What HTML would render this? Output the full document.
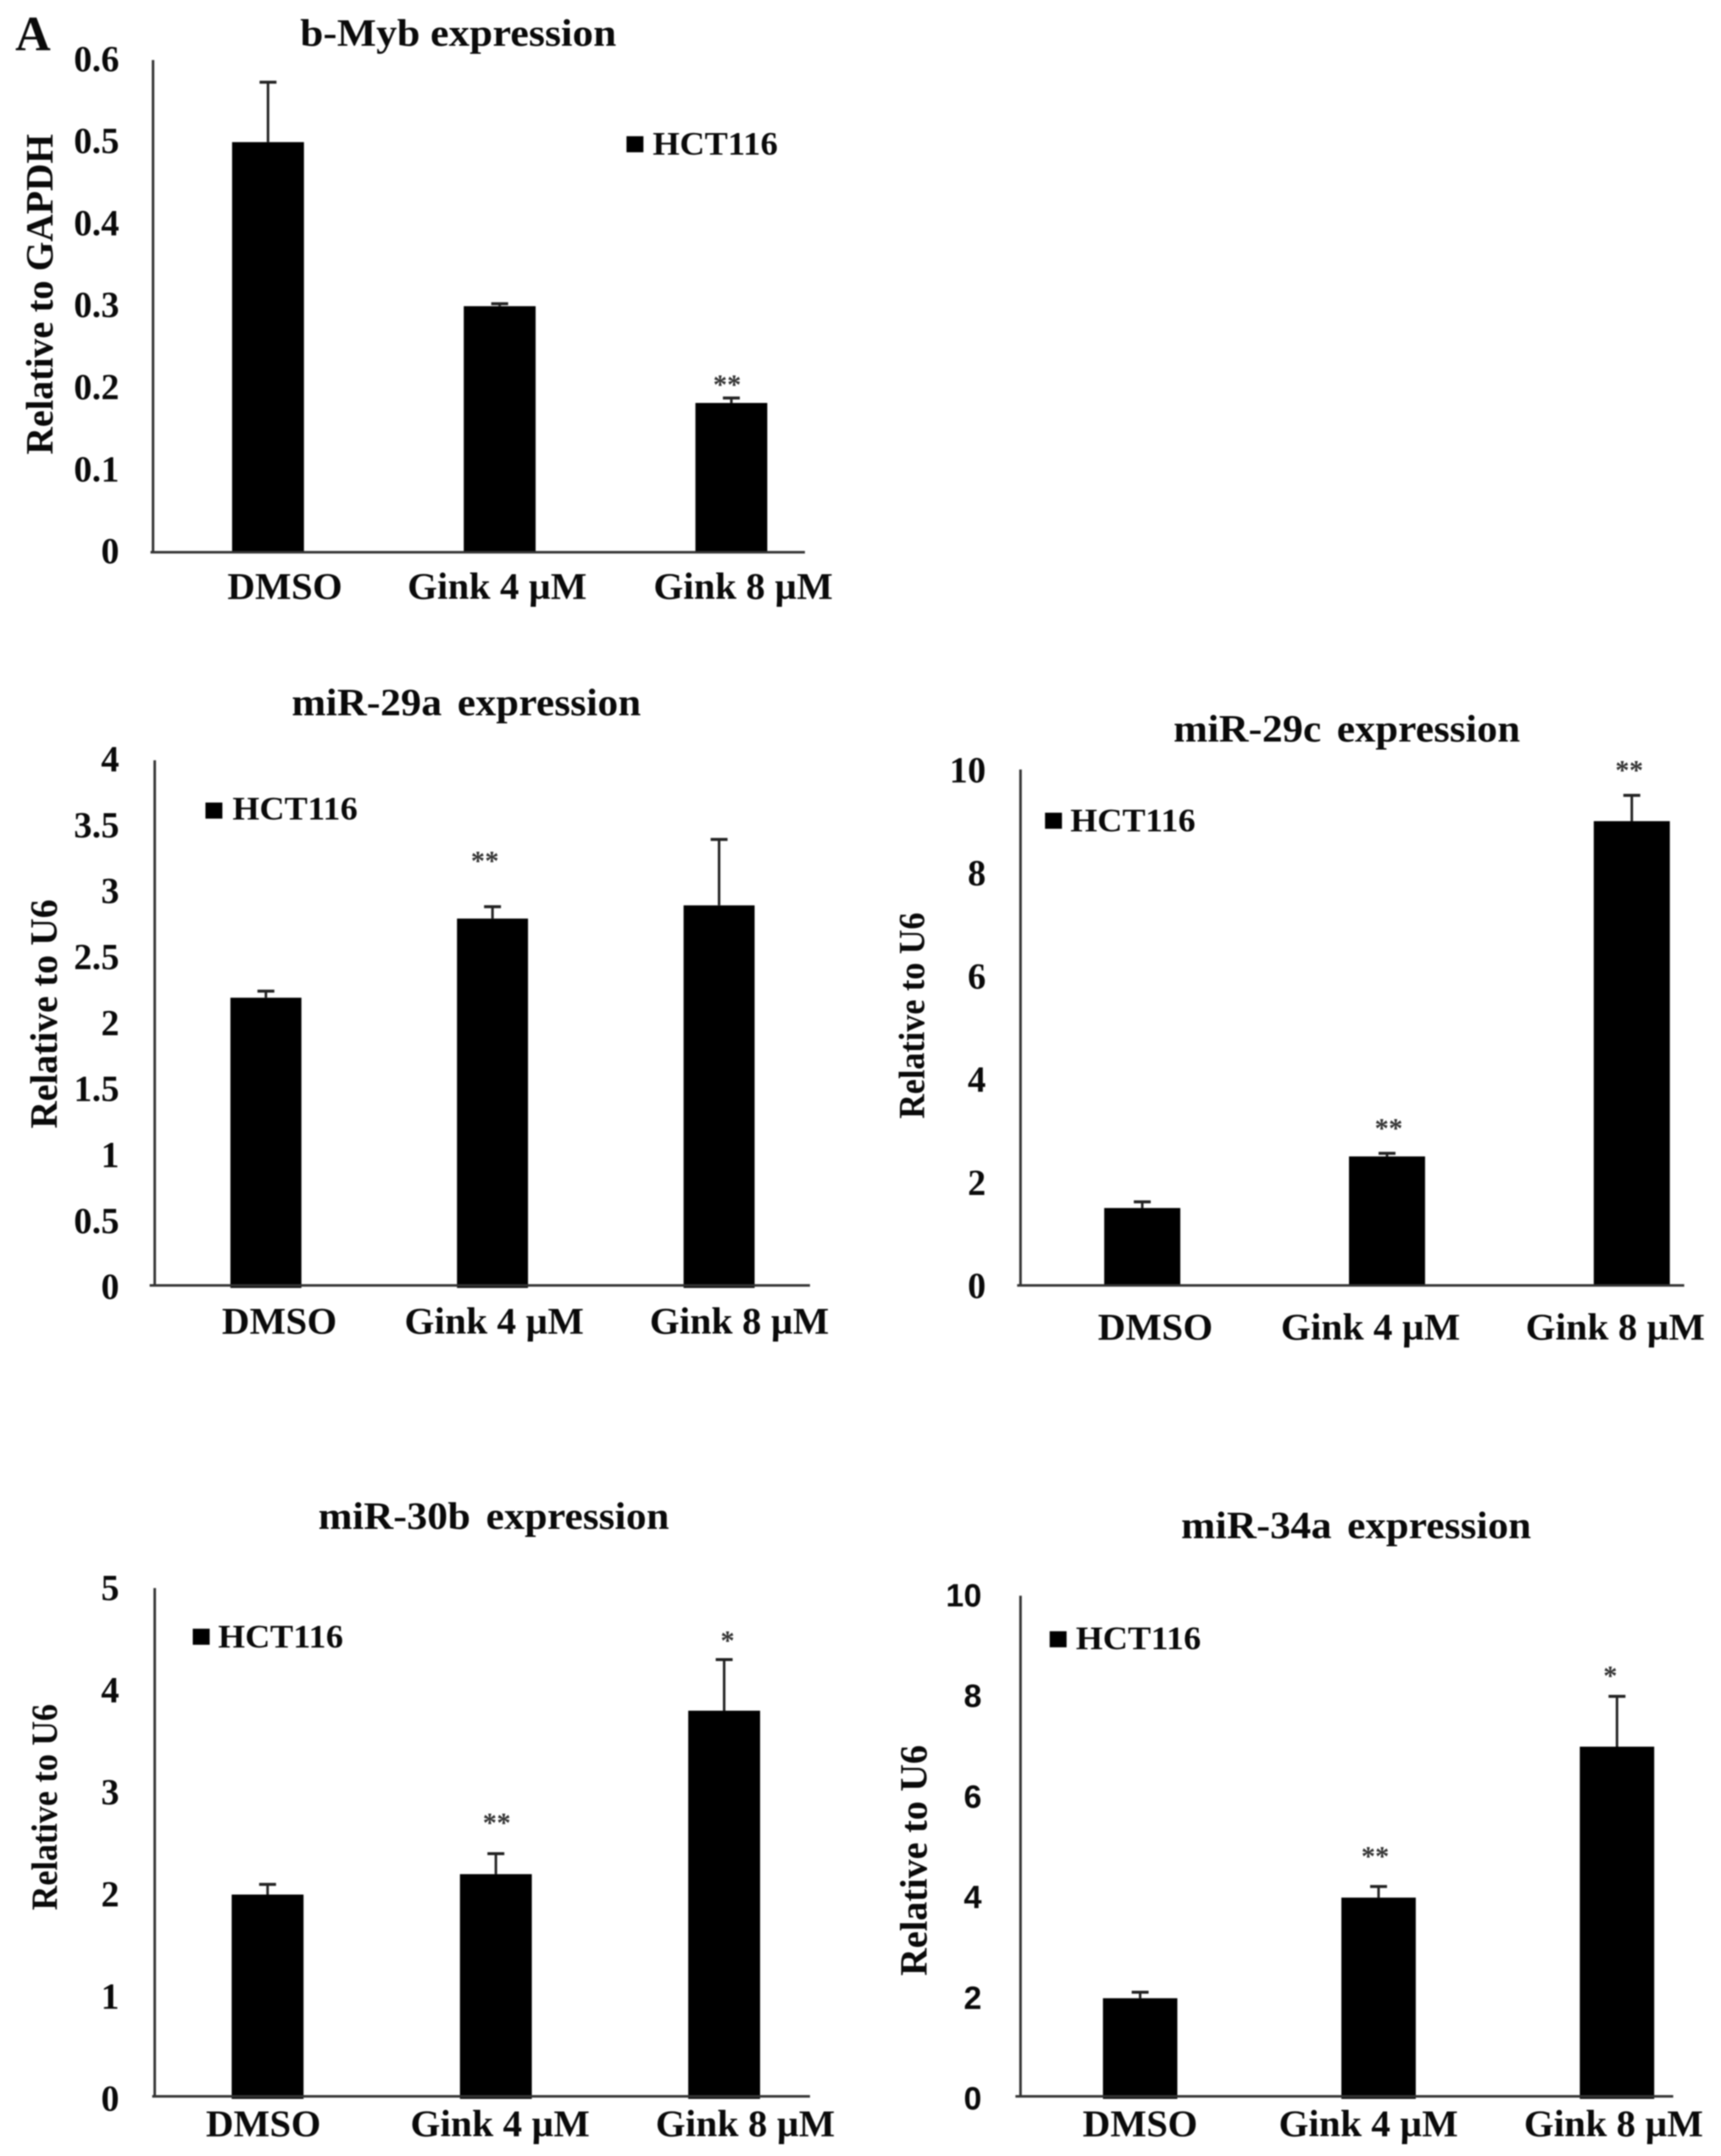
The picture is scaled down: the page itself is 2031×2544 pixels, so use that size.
<!DOCTYPE html>
<html lang="en">
<head>
<meta charset="utf-8">
<title>Gink expression bar charts</title>
<style>
html,body{margin:0;padding:0;background:#fff;}
#figure{display:block;width:2031px;height:2544px;filter:blur(0.9px);}
text{font-family:"Liberation Serif",serif;font-weight:bold;fill:#0a0a0a;}
</style>
</head>
<body>
<svg id="figure" xmlns="http://www.w3.org/2000/svg" width="2031" height="2544" viewBox="0 0 2035.5 2549.5">
<rect x="0" y="0" width="2036" height="2550" fill="#fff"></rect>
<text x="18" y="59" font-size="58">A</text>
</svg>
<script>
const categories = ['DMSO', 'Gink 4 µM', 'Gink 8 µM'];
const seriesName = 'HCT116';

const bMybValues = [0.5, 0.3, 0.182];
const bMybErrors = [0.073, 0.003, 0.006];
const bMybStars = ['', '', '**'];
const bMybTicks = [0, 0.1, 0.2, 0.3, 0.4, 0.5, 0.6];

const mir29aValues = [2.2, 2.8, 2.9];
const mir29aErrors = [0.05, 0.09, 0.5];
const mir29aStars = ['', '**', ''];
const mir29aTicks = [0, 0.5, 1, 1.5, 2, 2.5, 3, 3.5, 4];

const mir29cValues = [1.5, 2.5, 9];
const mir29cErrors = [0.12, 0.06, 0.5];
const mir29cStars = ['', '**', '**'];
const mir29cTicks = [0, 2, 4, 6, 8, 10];

const mir30bValues = [2, 2.2, 3.8];
const mir30bErrors = [0.1, 0.2, 0.5];
const mir30bStars = ['', '**', '*'];
const mir30bTicks = [0, 1, 2, 3, 4, 5];

const mir34aValues = [2, 4, 7];
const mir34aErrors = [0.12, 0.22, 1];
const mir34aStars = ['', '**', '*'];
const mir34aTicks = [0, 2, 4, 6, 8, 10];

const panels = [
  {id:'b-myb', title:'b-Myb expression', yTitle:'Relative to GAPDH', values:bMybValues, errors:bMybErrors, stars:bMybStars, ticks:bMybTicks,
   layout:{axisX:181, axisLeft:178, axisRight:952, bottom:653, xAxisY:653, top:71, yMax:0.6, barStart:317, barStep:274, barW:85,
    titleX:542, titleY:54, titleW:374, titleGap:0, yTitleX:62, yTitleY:348, yTitleW:379, yTitleFont:46,
    tickRight:141, tickDy:13, labelY:708, labelShift:[20,-3,14], legendX:741, legendY:161, legendTextX:772, legendBase:183,
    starShift:[0,0,-5], starGap:[0,0,20]}},
  {id:'mir-29a', title:'miR-29a expression', yTitle:'Relative to U6', values:mir29aValues, errors:mir29aErrors, stars:mir29aStars, ticks:mir29aTicks,
   layout:{axisX:183, axisLeft:177, axisRight:958, bottom:1523, xAxisY:1520, top:899, yMax:4, barStart:314.5, barStep:268, barW:84,
    titleX:551.5, titleY:846, titleW:413, titleGap:6, yTitleX:67, yTitleY:1199, yTitleW:271, yTitleFont:46,
    tickRight:141, tickDy:13, labelY:1577, labelShift:[16,2,24], legendX:243, legendY:949, legendTextX:275, legendBase:969,
    starShift:[0,-9,0], starGap:[0,58.5,0]}},
  {id:'mir-29c', title:'miR-29c expression', yTitle:'Relative to U6', values:mir29cValues, errors:mir29cErrors, stars:mir29cStars, ticks:mir29cTicks,
   layout:{axisX:1207, axisLeft:1203, axisRight:1992, bottom:1520, xAxisY:1520, top:910, yMax:10, barStart:1351, barStep:289.5, barW:90,
    titleX:1593, titleY:877, titleW:410, titleGap:6, yTitleX:1093, yTitleY:1201, yTitleW:244, yTitleFont:43,
    tickRight:1166, tickDy:15, labelY:1584, labelShift:[15.5,-19.5,-19.5], legendX:1236, legendY:961, legendTextX:1266, legendBase:983,
    starShift:[0,2,-3], starGap:[0,34,34]}},
  {id:'mir-30b', title:'miR-30b expression', yTitle:'Relative to U6', values:mir30bValues, errors:mir30bErrors, stars:mir30bStars, ticks:mir30bTicks,
   layout:{axisX:183, axisLeft:180, axisRight:958, bottom:2482, xAxisY:2479, top:1878, yMax:5, barStart:316.5, barStep:270, barW:85,
    titleX:584, titleY:1808, titleW:415, titleGap:6, yTitleX:67, yTitleY:2137, yTitleW:244, yTitleFont:43,
    tickRight:141, tickDy:14, labelY:2526, labelShift:[-5,5,25], legendX:228, legendY:1926, legendTextX:258, legendBase:1948,
    starShift:[0,1,4], starGap:[0,41,27]}},
  {id:'mir-34a', title:'miR-34a expression', yTitle:'Relative to U6', values:mir34aValues, errors:mir34aErrors, stars:mir34aStars, ticks:mir34aTicks,
   layout:{axisX:1207, axisLeft:1201, axisRight:1979, bottom:2482, xAxisY:2479, top:1887, yMax:10, barStart:1348.5, barStep:282, barW:88,
    titleX:1604, titleY:1819, titleW:414, titleGap:6, yTitleX:1096, yTitleY:2200, yTitleW:273, yTitleFont:46,
    tickRight:1161, tickDy:12.5, tickSans:true, labelY:2526, labelShift:[0,-12,-4], legendX:1241.5, legendY:1929, legendTextX:1272.5, legendBase:1950,
    starShift:[0,-4,-8], starGap:[0,40,28.5]}}
];

const NS = 'http://www.w3.org/2000/svg';
const svg = document.getElementById('figure');

function mk(parent, tag, attrs, content) {
  const el = document.createElementNS(NS, tag);
  for (const k in attrs) el.setAttribute(k, attrs[k]);
  if (content !== undefined) el.textContent = content;
  parent.appendChild(el);
  return el;
}

panels.forEach(function (p) {
  const L = p.layout;
  const yScale = function (v) { return L.bottom - (v / L.yMax) * (L.bottom - L.top); };
  const xScale = function (i) { return L.barStart + i * L.barStep; };

  const g = mk(svg, 'g', {});
  
  

  const title = mk(g, 'text', {x:L.titleX, y:L.titleY, 'font-size':46, 'text-anchor':'middle', 'word-spacing':L.titleGap, textLength:L.titleW, lengthAdjust:'spacingAndGlyphs'}, p.title);
  
  

  const yTitle = mk(g, 'text', {transform:'translate(' + L.yTitleX + ',' + L.yTitleY + ') rotate(-90)', 'font-size':L.yTitleFont, 'text-anchor':'middle', textLength:L.yTitleW, lengthAdjust:'spacingAndGlyphs'}, p.yTitle);
  
  

  p.ticks.forEach(function (t) {
    const tick = mk(g, 'text', {x:L.tickRight, y:yScale(t) + L.tickDy, 'font-size':L.tickSans ? 38 : 43, 'text-anchor':'end'}, String(t));
    if (L.tickSans) tick.style.fontFamily = '"Liberation Sans", sans-serif';
    
    
  });

  p.values.forEach(function (v, i) {
    const cx = xScale(i);
    const errTop = yScale(v + p.errors[i]);

    const stem = mk(g, 'line', {x1:cx, x2:cx, y1:yScale(v), y2:errTop, stroke:'#222', 'stroke-width':3});
    
    

    const cap = mk(g, 'line', {x1:cx - 10, x2:cx + 10, y1:errTop, y2:errTop, stroke:'#222', 'stroke-width':3.5});
    
    

    const bar = mk(g, 'rect', {x:cx - L.barW / 2, y:yScale(v), width:L.barW, height:L.bottom - yScale(v), fill:'#000'});
    
    

    const label = mk(g, 'text', {x:cx + L.labelShift[i], y:L.labelY, 'font-size':44, 'text-anchor':'middle', textLength:i === 0 ? 136 : 212, lengthAdjust:'spacingAndGlyphs'}, categories[i]);
    
    

    if (p.stars[i]) {
      const star = mk(g, 'text', {x:cx + L.starShift[i], y:errTop - L.starGap[i] + 15, 'font-size':33, 'text-anchor':'middle'}, p.stars[i]);
      star.style.fill = '#333';
      
      
    }
  });

  const yAxis = mk(g, 'line', {x1:L.axisX, x2:L.axisX, y1:L.top, y2:L.xAxisY, stroke:'#333', 'stroke-width':3});
  
  

  const xAxis = mk(g, 'line', {x1:L.axisLeft, x2:L.axisRight, y1:L.xAxisY, y2:L.xAxisY, stroke:'#333', 'stroke-width':3});
  
  

  const swatch = mk(g, 'rect', {x:L.legendX, y:L.legendY, width:20, height:19, fill:'#000'});
  
  

  const legendText = mk(g, 'text', {x:L.legendTextX, y:L.legendBase, 'font-size':39, textLength:148, lengthAdjust:'spacingAndGlyphs'}, seriesName);
  
  
});
</script>
</body>
</html>
